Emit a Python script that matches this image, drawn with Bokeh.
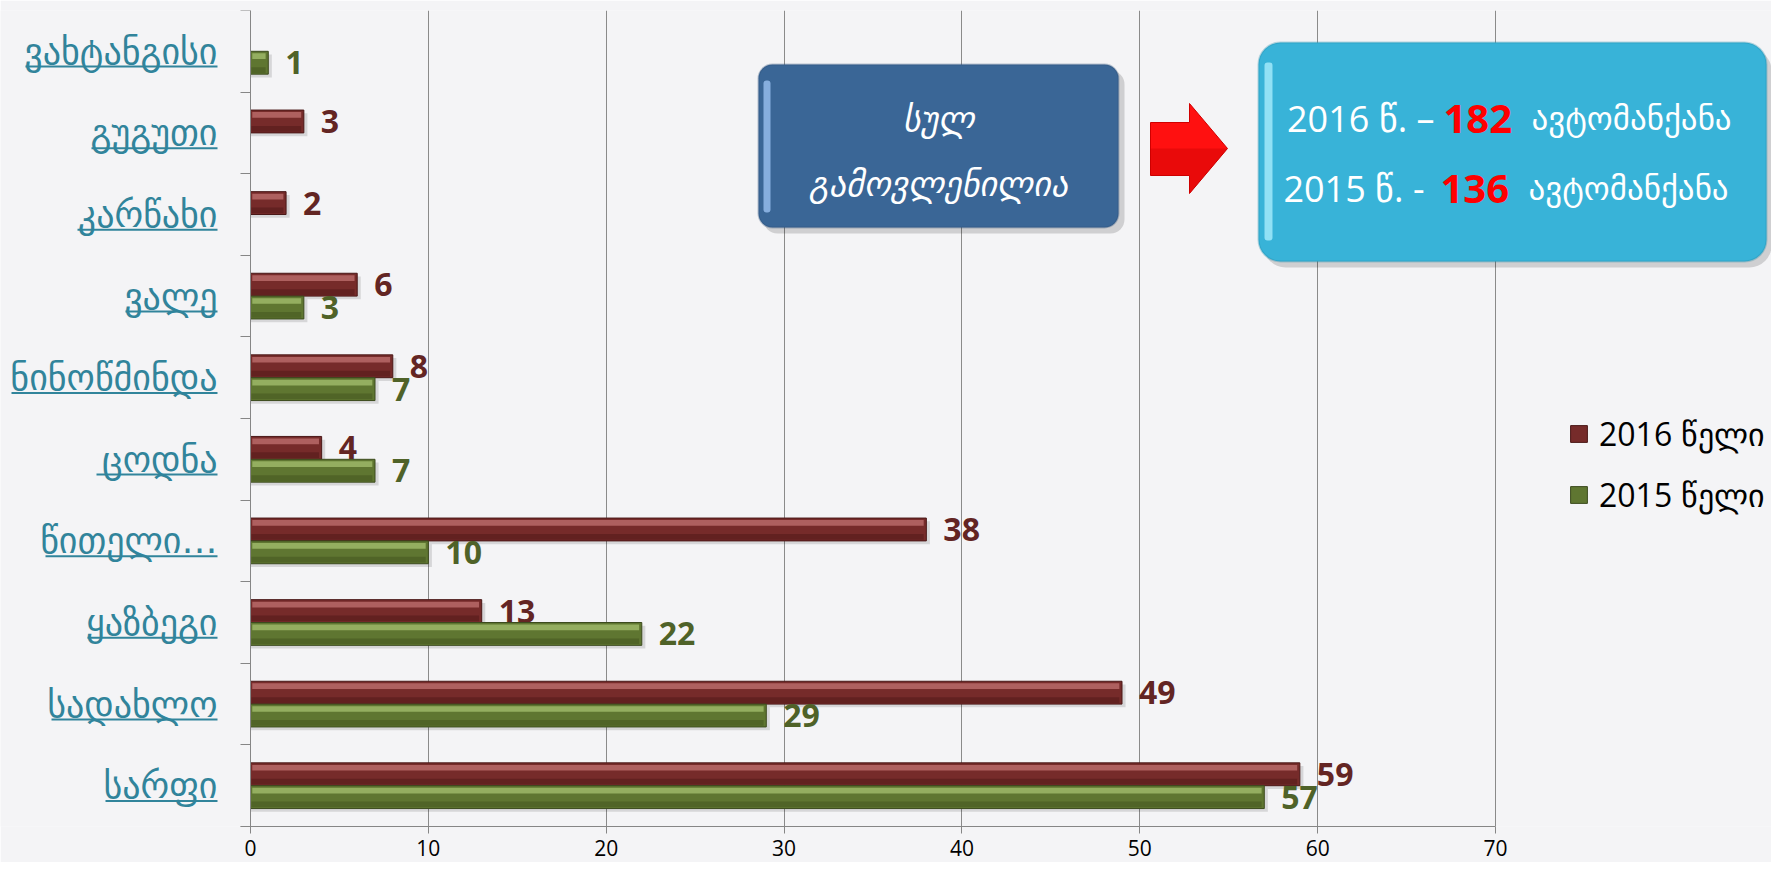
from bokeh.plotting import figure
from bokeh.models import (ColumnDataSource, Range1d, FixedTicker, Legend, LegendItem,
                          BoxAnnotation, Label)
from bokeh.transform import dodge
from bokeh.core.properties import value
from bokeh.embed import file_html
from bokeh.resources import INLINE

# ---------------- data ----------------
categories = ["ვახტანგისი", "გუგუთი", "კარწახი", "ვალე", "ნინოწმინდა",
              "ცოდნა", "წითელი…", "ყაზბეგი", "სადახლო", "სარფი"]
values_2016 = [0, 3, 2, 6, 8, 4, 38, 13, 49, 59]
values_2015 = [1, 0, 0, 3, 7, 7, 10, 22, 29, 57]
series_names = ["2016 წელი", "2015 წელი"]
x_ticks = [0, 10, 20, 30, 40, 50, 60, 70]
box_title = ["სულ", "გამოვლენილია"]
year_labels = ["2016 წ. –", "2015 წ. -"]
unit_word = "ავტომანქანა"

total_2016 = sum(values_2016)
total_2015 = sum(values_2015)

n = len(categories)
pos = [n - 1 - i for i in range(n)]          # top category first
bounds_pos = [k - 0.5 for k in range(n + 1)]

# ---------------- layout ----------------
W, H_FIG = 1771, 862
TOP, BOTTOM = 10, 36
AXIS_X = 250                      # canvas x of value 0
PX_PER_UNIT = 1245 / 70.0
X_START = -AXIS_X / PX_PER_UNIT
X_END = (W - AXIS_X) / PX_PER_UNIT
LABEL_RIGHT = 217
# approximate rendered widths (px) of the category labels, used for underlines
underline_w = [192, 126, 140, 92, 206, 121, 172, 130, 166, 112]

p = figure(width=W, height=H_FIG,
           x_range=Range1d(X_START, X_END), y_range=Range1d(-0.5, n - 0.5),
           output_backend="svg", toolbar_location=None,
           min_border=0, min_border_left=0, min_border_top=TOP,
           min_border_right=0, min_border_bottom=BOTTOM)
p.background_fill_color = "#F4F4F6"
p.border_fill_color = "#F4F4F6"
p.outline_line_color = None

# page-pixel helper ranges for decorations
p.extra_x_ranges = {"px": Range1d(0, W)}
p.extra_y_ranges = {"py": Range1d(H_FIG - BOTTOM, TOP)}

# axes
p.xaxis.ticker = FixedTicker(ticks=x_ticks)
p.xaxis.bounds = (-0.56, 70)
p.xaxis.axis_line_color = "#868686"
p.xaxis.major_tick_line_color = "#868686"
p.xaxis.major_tick_out = 7
p.xaxis.major_tick_in = 0
p.xaxis.minor_tick_line_color = None
p.xaxis.major_label_standoff = 6
p.xaxis.major_label_text_font = "Open Sans"
p.xaxis.major_label_text_font_size = "21px"
p.xaxis.major_label_text_color = "#000000"

p.yaxis.fixed_location = 0
p.yaxis.ticker = FixedTicker(ticks=pos, minor_ticks=bounds_pos)
p.yaxis.major_label_overrides = {pos[i]: categories[i] for i in range(n)}
p.yaxis.axis_line_color = "#868686"
p.yaxis.major_tick_out = 0
p.yaxis.major_tick_in = 0
p.yaxis.minor_tick_out = 10
p.yaxis.minor_tick_in = 0
p.yaxis.minor_tick_line_color = "#868686"
p.yaxis.major_label_standoff = 23
p.yaxis.major_label_text_font = "DejaVu Sans"
p.yaxis.major_label_text_font_size = "36px"
p.yaxis.major_label_text_color = "#31849B"

p.xgrid.ticker = FixedTicker(ticks=x_ticks)
p.xgrid.grid_line_color = "#8A8A8A"
p.xgrid.grid_line_width = 1
p.ygrid.grid_line_color = None

# hyperlink-style underlines below category labels
for i in range(n):
    p.add_layout(BoxAnnotation(left=LABEL_RIGHT - underline_w[i], right=LABEL_RIGHT,
                               top=pos[i] - 0.175, bottom=pos[i] - 0.2,
                               x_range_name="px", fill_color="#31849B", fill_alpha=1,
                               line_color=None))


def series_source(vals):
    idx = [i for i, v in enumerate(vals) if v > 0]
    return ColumnDataSource(dict(
        pos=[pos[i] for i in idx],
        v=[vals[i] for i in idx],
        vsh=[vals[i] + 0.2 for i in idx],
        vhl=[max(vals[i] - 0.15, 0.05) for i in idx],
        lab=[str(vals[i]) for i in idx],
    ))


H = 0.28
styles = [
    # offset, mid, light, dark line, bottom, label colour
    (+H / 2, "#762B2A", "#B86A68", "#4A1817", "#5A1E1D", "#632523"),
    (-H / 2, "#5F7631", "#9DB868", "#3C4B1E", "#4A5D24", "#4F6228"),
]
main_renderers = []
for vals, (off, mid, light, dark, bottom, lab_col) in zip([values_2016, values_2015], styles):
    src = series_source(vals)
    # soft shadow
    p.hbar(y=dodge("pos", off - 0.04, range=p.y_range), left=0, right="vsh", height=H,
           source=src, fill_color="#000000", fill_alpha=0.12, line_color=None)
    r = p.hbar(y=dodge("pos", off, range=p.y_range), left=0, right="v", height=H,
               source=src, fill_color=mid, line_color=dark, line_width=1)
    main_renderers.append(r)
    # bevel: light top band and darker lower band
    p.hbar(y=dodge("pos", off + 0.08, range=p.y_range), left=0.1, right="vhl", height=0.07,
           source=src, fill_color=light, fill_alpha=0.85, line_color=None)
    p.hbar(y=dodge("pos", off - 0.09, range=p.y_range), left=0.05, right="vhl", height=0.07,
           source=src, fill_color=bottom, fill_alpha=0.7, line_color=None)
    p.text(x="v", y=dodge("pos", off, range=p.y_range), text="lab", source=src,
           x_offset=17, text_align="left", text_baseline="middle",
           text_font=value("Open Sans"), text_font_style="bold",
           text_font_size="32px", text_color=lab_col)

legend = Legend(items=[LegendItem(label=series_names[0], renderers=[main_renderers[0]]),
                       LegendItem(label=series_names[1], renderers=[main_renderers[1]])],
                location=(1558, 300), glyph_width=21, glyph_height=21,
                label_standoff=10, spacing=18, padding=10,
                label_text_font="Open Sans", label_text_font_size="32px",
                label_text_color="#000000",
                background_fill_alpha=0, border_line_alpha=0)
p.add_layout(legend)


# ---------------- decorations (page-pixel coordinates) ----------------
def box(left, right, top, bottom, **kw):
    b = BoxAnnotation(left=left, right=right, top=top, bottom=bottom,
                      x_range_name="px", y_range_name="py", **kw)
    p.add_layout(b)


# blue box
box(763, 1124, 70, 233, fill_color="#000000", fill_alpha=0.15, line_color=None, border_radius=14)
box(758, 1118, 64, 227, fill_color="#3A6696", fill_alpha=1, line_color="#2A4C74",
    line_width=2, border_radius=14)
box(763, 770, 80, 212, fill_color="#8FB6E6", fill_alpha=0.9, line_color=None, border_radius=3)

for txt, yy in zip(box_title, [118, 183]):
    p.add_layout(Label(x=938, y=yy, text=txt, x_range_name="px", y_range_name="py",
                       text_align="center", text_baseline="middle",
                       text_color="#FFFFFF", text_font="DejaVu Sans",
                       text_font_style="italic", text_font_size="34px"))

# red arrow
p.patch([1150, 1189, 1189, 1227, 1189, 1189, 1150],
        [122, 122, 103, 148, 193, 175, 175],
        x_range_name="px", y_range_name="py",
        fill_color="#FF1010", line_color="#D00000", line_width=1)
p.patch([1150, 1227, 1189, 1189, 1150],
        [148, 148, 193, 175, 175],
        x_range_name="px", y_range_name="py",
        fill_color="#C00000", fill_alpha=0.35, line_color=None)

# cyan box
box(1263, 1771, 48, 267, fill_color="#000000", fill_alpha=0.15, line_color=None, border_radius=22)
box(1258, 1766, 42, 261, fill_color="#38B3D8", fill_alpha=1, line_color="#1F87A6",
    line_width=2, border_radius=22)
box(1264, 1272, 62, 240, fill_color="#9BE6F8", fill_alpha=0.9, line_color=None, border_radius=3)

totals = [total_2016, total_2015]
for txt, tot, yy, xr, xn, xw in zip(year_labels, totals, [118, 188],
                                   [1434, 1424], [1443, 1440], [1531, 1528]):
    p.add_layout(Label(x=xr, y=yy, text=txt, x_range_name="px", y_range_name="py",
                       text_align="right", text_baseline="middle",
                       text_color="#FFFFFF", text_font="Open Sans",
                       text_font_size="36px"))
    p.add_layout(Label(x=xn, y=yy, text=str(tot), x_range_name="px", y_range_name="py",
                       text_align="left", text_baseline="middle",
                       text_color="#FF0000", text_font="Open Sans",
                       text_font_style="bold", text_font_size="40px"))
    p.add_layout(Label(x=xw, y=yy, text=unit_word, x_range_name="px", y_range_name="py",
                       text_align="left", text_baseline="middle",
                       text_color="#FFFFFF", text_font="DejaVu Sans",
                       text_font_size="33px"))

open("out.html", "w").write(file_html(p, INLINE))
